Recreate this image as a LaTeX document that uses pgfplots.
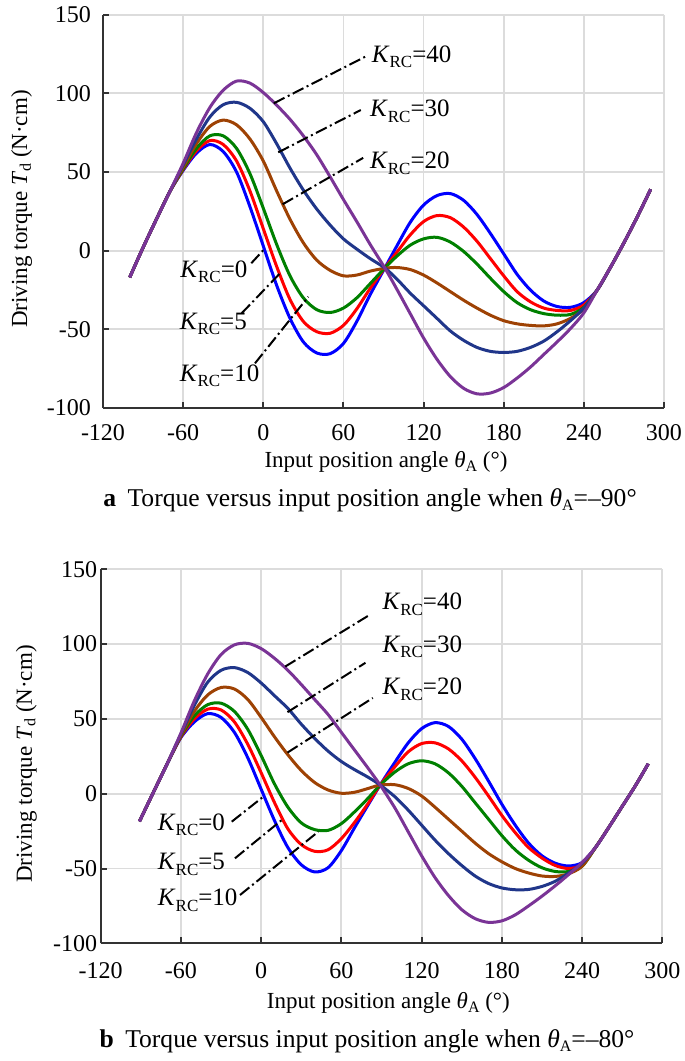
\documentclass[border=0pt]{standalone}
\usepackage{pgfplots}
\pgfplotsset{compat=1.18}
\usepackage{fontspec}
\setmainfont{Liberation Serif}

\definecolor{cKa}{RGB}{0,0,255}
\definecolor{cKb}{RGB}{255,0,0}
\definecolor{cKc}{RGB}{0,128,0}
\definecolor{cKd}{RGB}{158,66,4}
\definecolor{cKe}{RGB}{32,54,138}
\definecolor{cKf}{RGB}{122,52,150}
\definecolor{gridc}{RGB}{220,220,220}

\newcommand{\sub}[1]{\raisebox{-0.45ex}{\fontsize{8.5}{9}\selectfont #1}}
\newcommand{\subs}[1]{\raisebox{-0.35ex}{\fontsize{8}{9}\selectfont #1}}
\newcommand{\KRC}[1]{\textit{K}\sub{RC}=#1}

\tikzset{lead/.style={line width=1pt, black, dash pattern=on 6pt off 1.8pt on 1pt off 1.8pt},
  klab/.style={anchor=base west, inner sep=0pt, font=\fontsize{12.5}{14}\selectfont}}

\pgfplotsset{
  myax/.style={
    scale only axis, xmin=-120, xmax=300, ymin=-100, ymax=150,
    xtick={-120,-60,...,300}, ytick={-100,-50,...,150},
    axis x line=bottom, axis y line=left,
    axis line style={line width=1pt, black!80, -},
    grid=major, major grid style={line width=0.9pt, gridc},
    tick align=inside, major tick length=3pt, tick style={line width=1pt, black!80},
    /pgf/number format/assume math mode=true,
    ticklabel style={font=\fontsize{12}{14}\selectfont},
    every axis plot/.append style={line width=1.5pt, smooth, no marks},
  }
}

\begin{document}
\begin{tikzpicture}
\useasboundingbox (0,0) rectangle (342.5pt,530.5pt);

% ---------------- top: theta_A = -90 ----------------
\begin{axis}[myax, at={(51.5pt,326.5pt)}, anchor=south west, width=280.5pt, height=196.65pt,
  xticklabel style={yshift=-4.5pt}, yticklabel style={xshift=-2.5pt}]
\addplot[cKa] coordinates {(-100,-17) (-90,2) (-80,20) (-70,37.5) (-60,51) (-50,62) (-40,67.5) (-30,63) (-20,50) (-10,28) (0,3) (10,-22) (20,-43) (30,-58) (40,-65) (50,-65.5) (60,-59) (70,-45) (80,-28) (91,-11) (100,3) (110,18) (120,29) (130,35) (140,36.3) (150,32) (160,23) (170,11) (180,-2) (190,-15) (200,-25) (210,-32) (220,-35.5) (230,-36) (240,-33) (250,-25) (260,-10.5) (270,5) (280,21.5) (290,39)};
\addplot[cKb] coordinates {(-100,-17) (-90,2) (-80,20) (-70,37.5) (-60,51.5) (-50,63.5) (-40,70) (-30,67.5) (-20,57) (-10,38) (0,14) (10,-10) (20,-31) (30,-45) (40,-51.5) (50,-52.5) (60,-47.5) (70,-37) (80,-24) (91,-11) (100,-1) (110,10) (120,18.5) (130,22.3) (140,21) (150,15) (160,6) (170,-5) (180,-16) (190,-26) (200,-32.5) (210,-36.5) (220,-38) (230,-38) (240,-34.5) (250,-25) (260,-10.5) (270,5) (280,21.5) (290,39)};
\addplot[cKc] coordinates {(-100,-17) (-90,2) (-80,20) (-70,37.5) (-60,52) (-50,65) (-40,73) (-30,73) (-20,65) (-10,49) (0,27) (10,4) (20,-16) (30,-30) (40,-37.5) (50,-39.3) (60,-36.5) (70,-30) (80,-21) (91,-11) (100,-3.5) (110,3.5) (120,7.5) (130,8.5) (140,5.5) (150,-0.5) (160,-8.5) (170,-17.5) (180,-26) (190,-33) (200,-37.5) (210,-40) (220,-41) (230,-40.5) (240,-36) (250,-25) (260,-10.5) (270,5) (280,21.5) (290,39)};
\addplot[cKd] coordinates {(-100,-17) (-90,2) (-80,20) (-70,37.5) (-60,53) (-50,68) (-40,79) (-30,83) (-20,80) (-10,71) (0,57) (10,38) (20,20) (30,5) (40,-6) (50,-12.5) (60,-16) (70,-15.5) (80,-13) (91,-11.2) (100,-10.7) (110,-12) (120,-15.5) (130,-20.5) (140,-26) (150,-31.5) (160,-36.5) (170,-41) (180,-44.5) (190,-46.5) (200,-47.5) (210,-47.8) (220,-46.5) (230,-43) (240,-37) (250,-25) (260,-10.5) (270,5) (280,21.5) (290,39)};
\addplot[cKe] coordinates {(-100,-17) (-90,2) (-80,20) (-70,37.5) (-60,54.5) (-50,71) (-40,85) (-30,92.8) (-20,94.3) (-10,90.5) (0,82) (10,68) (20,52.5) (30,38.5) (40,26.5) (50,16.3) (60,7.5) (70,1) (80,-5) (91,-11) (100,-18) (110,-27) (120,-35) (130,-43) (140,-51) (150,-57) (160,-61.5) (170,-64) (180,-64.7) (190,-64) (200,-61.5) (210,-57.5) (220,-51.5) (230,-44.5) (240,-36.5) (250,-25) (260,-10.5) (270,5) (280,21.5) (290,39)};
\addplot[cKf] coordinates {(-100,-17) (-90,2) (-80,20) (-70,37.5) (-60,55.5) (-50,75) (-40,91) (-30,102) (-20,107.8) (-10,106.5) (0,100.5) (10,92.5) (20,83.5) (30,73) (40,61) (50,47) (60,32.5) (70,18.5) (80,4) (91,-11) (100,-24.5) (110,-40) (120,-55.5) (130,-69) (140,-80) (150,-87.5) (160,-91) (170,-90.5) (180,-87) (190,-81) (200,-74) (210,-66) (220,-58) (230,-49.5) (240,-39.5) (250,-25) (260,-10.5) (270,5) (280,21.5) (290,39)};
\draw[lead] (axis cs:7.9,93.7) -- (axis cs:78,124);
\draw[lead] (axis cs:11.2,62.5) -- (axis cs:73,89.4);
\draw[lead] (axis cs:14.5,29.5) -- (axis cs:74.8,59);
\draw[lead] (axis cs:-9,-8) -- (axis cs:1.3,1.5);
\draw[lead] (axis cs:-16.2,-39.8) -- (axis cs:12.5,-14.4);
\draw[lead] (axis cs:-6.2,-71.6) -- (axis cs:33.7,-29.3);
\node[klab] at (axis cs:81,119.4) {\KRC{40}};
\node[klab] at (axis cs:79.7,85) {\KRC{30}};
\node[klab] at (axis cs:79.7,52) {\KRC{20}};
\node[klab] at (axis cs:-62.4,-16.8) {\KRC{0}};
\node[klab] at (axis cs:-62.8,-50.3) {\KRC{5}};
\node[klab] at (axis cs:-62.8,-83.3) {\KRC{10}};
\end{axis}

% ---------------- bottom: theta_A = -80 ----------------
\begin{axis}[myax, at={(50.35pt,58.85pt)}, anchor=south west, width=280.8pt, height=187pt,
  xticklabel style={yshift=-6pt}, yticklabel style={xshift=1.8pt}]
\addplot[cKa] coordinates {(-91,-18.5) (-80,2) (-70,20.5) (-60,37.5) (-50,48) (-40,53.5) (-30,51) (-20,41) (-10,24) (0,3) (10,-18) (20,-36) (30,-47.5) (40,-52.3) (50,-49.5) (60,-38) (70,-22.5) (80,-7.5) (89,5.8) (100,21) (110,34) (120,43.5) (130,47.5) (140,45) (150,36.5) (160,23.5) (170,8.5) (180,-7) (190,-21) (200,-33) (210,-41.5) (220,-46.5) (230,-48.3) (240,-46) (250,-36) (260,-22.5) (270,-8.5) (280,5.5) (289.5,20)};
\addplot[cKb] coordinates {(-91,-18.5) (-80,2) (-70,20.5) (-60,38) (-50,50) (-40,56.5) (-30,56) (-20,48) (-10,33) (0,14) (10,-6) (20,-23.5) (30,-34) (40,-38.5) (50,-37.5) (60,-30) (70,-19) (80,-6.5) (89,5.8) (100,18) (110,28) (120,33.5) (130,34) (140,30) (150,22) (160,11) (170,-1.5) (180,-14.5) (190,-26) (200,-36) (210,-43) (220,-48) (230,-50) (240,-47.5) (250,-36) (260,-22.5) (270,-8.5) (280,5.5) (289.5,20)};
\addplot[cKc] coordinates {(-91,-18.5) (-80,2) (-70,20.5) (-60,38.5) (-50,52) (-40,59.5) (-30,60.5) (-20,55) (-10,43) (0,25.5) (10,6.5) (20,-9) (30,-19.5) (40,-24) (50,-24.5) (60,-20) (70,-12) (80,-3) (89,5.8) (100,14.5) (110,20) (120,22) (130,20) (140,14) (150,5) (160,-6) (170,-17) (180,-28) (190,-37.5) (200,-44.5) (210,-49.5) (220,-52) (230,-52) (240,-48.5) (250,-36) (260,-22.5) (270,-8.5) (280,5.5) (289.5,20)};
\addplot[cKd] coordinates {(-91,-18.5) (-80,2) (-70,20.5) (-60,39) (-50,55) (-40,66) (-30,71) (-20,70) (-10,63) (0,51) (10,38) (20,26) (30,15.5) (40,7.5) (50,2.5) (60,0.3) (70,1) (80,3.5) (89,5.8) (100,6) (110,3.5) (120,-1.5) (130,-9) (140,-17) (150,-25) (160,-33) (170,-40) (180,-45.5) (190,-50) (200,-53) (210,-55) (220,-55.3) (230,-53.5) (240,-48.5) (250,-36) (260,-22.5) (270,-8.5) (280,5.5) (289.5,20)};
\addplot[cKe] coordinates {(-91,-18.5) (-80,2) (-70,20.5) (-60,40) (-50,59) (-40,74.5) (-30,82.5) (-20,84.3) (-10,81) (0,74) (10,65.5) (20,57) (30,46.5) (40,37) (50,28.5) (60,21.5) (70,16) (80,11) (89,5.8) (100,-2) (110,-11) (120,-21) (130,-31) (140,-40) (150,-48) (160,-55) (170,-60) (180,-63) (190,-64.2) (200,-64) (210,-62) (220,-58.5) (230,-53) (240,-46.5) (250,-36) (260,-22.5) (270,-8.5) (280,5.5) (289.5,20)};
\addplot[cKf] coordinates {(-91,-18.5) (-80,2) (-70,20.5) (-60,40.5) (-50,62) (-40,80) (-30,93) (-20,99.5) (-10,100.5) (0,97) (10,90.5) (20,82.5) (30,73) (40,63) (50,53) (60,41) (70,29) (80,17) (89,5.8) (100,-9.5) (110,-25.5) (120,-41.5) (130,-56) (140,-68) (150,-77.5) (160,-83.5) (170,-86) (180,-85) (190,-81) (200,-75) (210,-68.5) (220,-61.5) (230,-54) (240,-46) (250,-36) (260,-22.5) (270,-8.5) (280,5.5) (289.5,20)};
\draw[lead] (axis cs:18,85) -- (axis cs:82,120);
\draw[lead] (axis cs:19.7,54.5) -- (axis cs:78,87.5);
\draw[lead] (axis cs:19.7,27.5) -- (axis cs:83.5,64);
\draw[lead] (axis cs:-22,-18.7) -- (axis cs:1.6,-2);
\draw[lead] (axis cs:-19.6,-43.2) -- (axis cs:15.4,-17.6);
\draw[lead] (axis cs:-15.8,-67.7) -- (axis cs:42.7,-25.4);
\node[klab] at (axis cs:90.5,122.8) {\KRC{40}};
\node[klab] at (axis cs:90.5,94.5) {\KRC{30}};
\node[klab] at (axis cs:90.5,66) {\KRC{20}};
\node[klab] at (axis cs:-77.5,-24.3) {\KRC{0}};
\node[klab] at (axis cs:-77.5,-51) {\KRC{5}};
\node[klab] at (axis cs:-77.5,-75) {\KRC{10}};
\end{axis}

% axis labels and captions
\node[rotate=90, font=\fontsize{11.5}{13}\selectfont] at (10.85pt,426pt) {Driving torque \textit{T}\subs{d} (N·cm)};
\node[font=\fontsize{11.5}{13}\selectfont] at (193pt,299.6pt) {Input position angle \textit{θ}\subs{A} (°)};
\node[font=\fontsize{12.8}{14}\selectfont] at (185pt,280.5pt) {\textbf{a}\hspace{0.45em}Torque versus input position angle when \textit{θ}\subs{A}=–90°};

\node[rotate=90, font=\fontsize{11.5}{13}\selectfont] at (13.15pt,148.5pt) {Driving torque \textit{T}\subs{d} (N·cm)};
\node[font=\fontsize{11.5}{13}\selectfont] at (194.2pt,29pt) {Input position angle \textit{θ}\subs{A} (°)};
\node[font=\fontsize{12.8}{14}\selectfont] at (183.5pt,10pt) {\textbf{b}\hspace{0.45em}Torque versus input position angle when \textit{θ}\subs{A}=–80°};
\end{tikzpicture}
\end{document}
